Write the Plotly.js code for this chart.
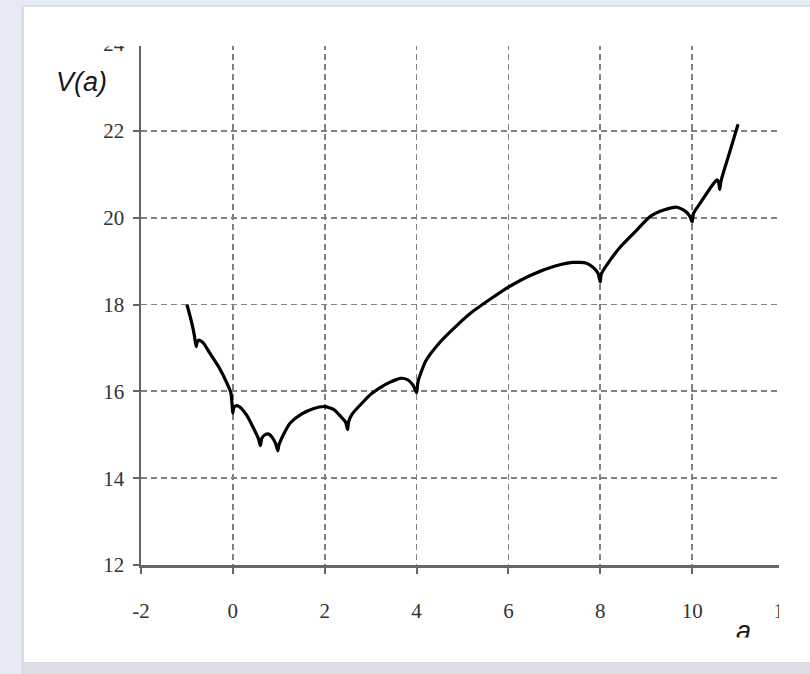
<!DOCTYPE html>
<html>
<head>
<meta charset="utf-8">
<script src="https://cdn.plot.ly/plotly-3.0.1.min.js"></script>
<style>
html,body{margin:0;padding:0;background:#e6e9f6;}
#chart{width:810px;height:674px;}
</style>
</head>
<body>
<div id="chart"></div>
<script>
// Curve V(a)
const aValues = [
  -1.0, -0.9, -0.84, -0.8, -0.78, -0.74, -0.65, -0.5, -0.3, -0.1, -0.04, 0.0,
  0.02, 0.08, 0.15, 0.3, 0.45, 0.56, 0.6,
  0.63, 0.7, 0.77, 0.85, 0.93, 0.98,
  1.0, 1.1, 1.25, 1.5, 1.75, 2.0, 2.2, 2.35, 2.45, 2.5,
  2.52, 2.6, 2.84, 3.0, 3.2, 3.4, 3.65, 3.8, 3.92, 4.0,
  4.03, 4.2, 4.5, 4.88, 5.2, 5.6, 6.0, 6.5, 7.0, 7.4, 7.7, 7.85, 7.95, 8.0,
  8.02, 8.2, 8.44, 8.8, 9.09, 9.4, 9.67, 9.85, 9.95, 10.0,
  10.03, 10.18, 10.4, 10.54, 10.58, 10.6,
  10.63, 10.8, 11.0
];
const vValues = [
  18.0, 17.6, 17.3, 17.03, 17.12, 17.18, 17.12, 16.88, 16.55, 16.12, 15.95, 15.5,
  15.62, 15.67, 15.64, 15.45, 15.15, 14.9, 14.75,
  14.92, 15.0, 15.02, 14.95, 14.8, 14.63,
  14.75, 15.0, 15.27, 15.48, 15.6, 15.65, 15.58, 15.42, 15.3, 15.12,
  15.3, 15.48, 15.76, 15.93, 16.08, 16.2, 16.3, 16.27, 16.15, 15.97,
  16.22, 16.7, 17.12, 17.52, 17.82, 18.12, 18.4, 18.68, 18.88, 18.97, 18.95, 18.85, 18.72, 18.52,
  18.7, 19.0, 19.33, 19.72, 20.03, 20.18, 20.24, 20.15, 20.03, 19.9,
  20.1, 20.34, 20.69, 20.87, 20.8, 20.65,
  20.85, 21.45, 22.15
];
const xTicks = [-2, 0, 2, 4, 6, 8, 10, 12];
const yTicks = [12, 14, 16, 18, 20, 22, 24];
const yTitle = 'V(a)';
const xTitle = 'a';

const W = 810, H = 674, L = 141, R = 26, T = 44, B = 109;
const pw = W - L - R, ph = H - T - B;
const px = p => (p - L) / pw;
const py = p => (H - B - p) / ph;

const shapes = [
  // panel shadow and white panel
  {type:'rect', xref:'paper', yref:'paper', layer:'below', x0:px(21), x1:px(812), y0:py(5), y1:py(676),
   fillcolor:'#dcdee4', line:{width:0}},
  {type:'rect', xref:'paper', yref:'paper', layer:'below', x0:px(24), x1:px(812), y0:py(7), y1:py(662),
   fillcolor:'#ffffff', line:{width:0}},
  // clipping of the original cropped picture
  {type:'rect', xref:'paper', yref:'paper', layer:'above', x0:px(90), x1:px(812), y0:py(7), y1:py(46),
   fillcolor:'#ffffff', line:{width:0}},
  {type:'rect', xref:'paper', yref:'paper', layer:'above', x0:px(779), x1:px(812), y0:py(40), y1:py(662),
   fillcolor:'#ffffff', line:{width:0}}
];

const tickFont = {family:'"Liberation Serif", "Times New Roman", serif', size:21, color:'#333333'};
const titleFont = {family:'"Liberation Sans Narrow", "Liberation Sans", Arial, sans-serif', size:27, style:'italic', color:'#1a1a1a'};

const layout = {
  width: W, height: H,
  margin: {l:L, r:R, t:T, b:B, pad:0},
  paper_bgcolor: '#e6e9f6',
  plot_bgcolor: 'rgba(0,0,0,0)',
  showlegend: false,
  xaxis: {
    range: [-2, 12], tickvals: xTicks, ticktext: xTicks.map(String),
    showgrid: true, gridcolor: '#808080', gridwidth: 1.8, griddash: '6px,4px',
    zeroline: false, showline: true, linecolor: '#666666', linewidth: 2.5,
    ticks: 'outside', ticklen: 6, tickwidth: 2, tickcolor: '#666666',
    ticklabelstandoff: 19,
    tickfont: tickFont, fixedrange: true
  },
  yaxis: {
    range: [12, 24], tickvals: yTicks, ticktext: yTicks.map(String),
    showgrid: true, gridcolor: '#808080', gridwidth: 1.8, griddash: '6px,4px',
    zeroline: false, showline: true, linecolor: '#666666', linewidth: 2.5,
    ticks: 'outside', ticklen: 6, tickwidth: 2, tickcolor: '#666666',
    ticklabelstandoff: 4,
    tickfont: tickFont, fixedrange: true
  },
  shapes: shapes,
  annotations: [
    {text: yTitle, xref:'paper', yref:'paper', x: px(81), y: py(82), showarrow:false,
     xanchor:'center', yanchor:'middle', font: titleFont},
    {text: xTitle, xref:'paper', yref:'paper', x: px(743), y: py(614), showarrow:false,
     xanchor:'center', yanchor:'top', font: titleFont},
    // white patch that crops the lower part of the "a" label, as in the cropped original
    {text: ' ', xref:'paper', yref:'paper', x: px(700), y: py(637), showarrow:false,
     xanchor:'left', yanchor:'top', width: 100, height: 22, bgcolor:'#ffffff', borderpad:0,
     font:{size:10, color:'#ffffff'}}
  ]
};

const trace = {
  x: aValues, y: vValues, type: 'scatter', mode: 'lines',
  line: {color:'#000000', width: 3.2, shape: 'spline', smoothing: 0.6},
  hoverinfo: 'skip'
};

Plotly.newPlot('chart', [trace], layout, {staticPlot:true, displayModeBar:false});
</script>
</body>
</html>
